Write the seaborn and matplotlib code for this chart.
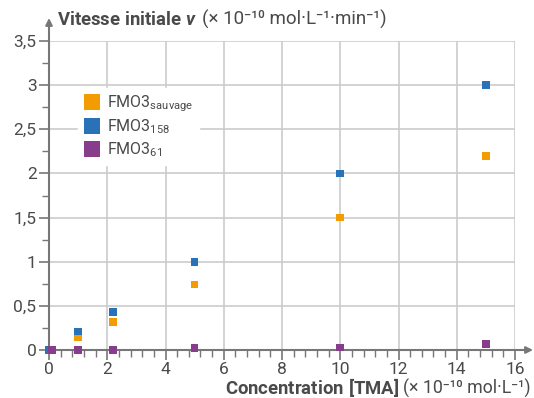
import numpy as np
import pandas as pd
import matplotlib.pyplot as plt
import seaborn as sns
from matplotlib.ticker import MultipleLocator, FuncFormatter
from matplotlib.lines import Line2D

# Données
conc = [0, 1, 2.2, 5, 10, 15]
v_sauvage = [0.0, 0.14, 0.32, 0.74, 1.5, 2.2]
v_158 = [0.0, 0.21, 0.43, 1.0, 2.0, 3.0]
conc_61 = [0.1, 1, 2.2, 5, 10, 15]
v_61 = [0.0, 0.0, 0.0, 0.025, 0.03, 0.07]

series = ['FMO3 sauvage', 'FMO3 158', 'FMO3 61']
labels = ['FMO3$_{\\mathregular{sauvage}}$', 'FMO3$_{\\mathregular{158}}$', 'FMO3$_{\\mathregular{61}}$']
couleurs = ['#F39C00', '#2A72B8', '#873C8C']

df = pd.concat([
    pd.DataFrame({'conc': conc, 'v': v_sauvage, 'serie': series[0]}),
    pd.DataFrame({'conc': conc, 'v': v_158, 'serie': series[1]}),
    pd.DataFrame({'conc': conc_61, 'v': v_61, 'serie': series[2]}),
])

sns.set_style('white')
police = 'Roboto'
plt.rcParams['font.family'] = [police, 'DejaVu Sans']
plt.rcParams['mathtext.fontset'] = 'custom'
plt.rcParams['mathtext.rm'] = police
plt.rcParams['mathtext.bf'] = police + ':bold'
plt.rcParams['mathtext.it'] = police + ':italic'
plt.rcParams['mathtext.bfit'] = police + ':bold:italic'

gris = '#4a4a4a'
W, H = 534, 398
fig = plt.figure(figsize=(W / 100, H / 100), dpi=100)
ax = fig.add_axes([49 / W, 48 / H, 466 / W, 309 / H])

sns.scatterplot(data=df, x='conc', y='v', hue='serie', palette=couleurs,
                marker='s', s=30, linewidth=0, ax=ax, legend=False,
                clip_on=False, zorder=5)
ax.set_xlabel('')
ax.set_ylabel('')

ax.set_xlim(0, 16)
ax.set_ylim(0, 3.5)
for s in ax.spines.values():
    s.set_visible(False)

ax.xaxis.set_major_locator(MultipleLocator(2))
ax.xaxis.set_minor_locator(MultipleLocator(0.4))
ax.yaxis.set_major_locator(MultipleLocator(0.5))
ax.yaxis.set_minor_locator(MultipleLocator(0.25))
fmt = FuncFormatter(lambda v, p: f'{v:g}'.replace('.', ','))
ax.xaxis.set_major_formatter(fmt)
ax.yaxis.set_major_formatter(fmt)
ax.tick_params(which='major', length=7, width=1.2, color='#777777',
               labelsize=12.5, labelcolor=gris, pad=2, bottom=True, left=True)
ax.tick_params(which='minor', length=5, width=1, color='#777777', bottom=True, left=True)
ax.grid(True, which='major', color='#cccccc', linewidth=1.2)
ax.set_axisbelow(True)

# axes fléchés
ax.annotate('', xy=((533 - 49) / 466, 0), xytext=(0, 0),
            xycoords='axes fraction',
            arrowprops=dict(arrowstyle='-|>', color='#777777', lw=1.5,
                            mutation_scale=10, shrinkA=0, shrinkB=0))
ax.annotate('', xy=(0, (H - 18 - 48) / 309), xytext=(0, 0),
            xycoords='axes fraction',
            arrowprops=dict(arrowstyle='-|>', color='#777777', lw=1.5,
                            mutation_scale=10, shrinkA=0, shrinkB=0))

# titres des axes (partie grasse + unité), enchaînés
rend = fig.canvas.get_renderer()
t1 = fig.text(57 / W, 1 - 25 / H, r'$\mathbf{Vitesse\ initiale}\ \mathbfit{v}$',
              fontsize=13.3, color=gris, ha='left', va='baseline')
x1 = t1.get_window_extent(rend).x1
fig.text((x1 + 4) / W, 1 - 25 / H, '(× 10⁻¹⁰ mol·L⁻¹·min⁻¹)',
         fontsize=13.5, color=gris, ha='left', va='baseline')

t2 = fig.text(531 / W, 1 - 394 / H, '(× 10⁻¹⁰ mol·L⁻¹)',
              fontsize=12.8, color=gris, ha='right', va='baseline')
x0 = t2.get_window_extent(rend).x0
fig.text((x0 - 4) / W, 1 - 394 / H, r'$\mathbf{Concentration\ [TMA]}$',
         fontsize=13.3, color=gris, ha='right', va='baseline')

handles = [Line2D([], [], marker='s', linestyle='', markersize=11.5,
                  markerfacecolor=c, markeredgewidth=0) for c in couleurs]
leg = ax.legend(handles, labels, loc='upper left', bbox_to_anchor=(0.045, 0.875),
                frameon=True, fontsize=11.5, labelcolor=gris, handletextpad=0.35,
                labelspacing=0.25, borderpad=0.35, handlelength=1.1)
leg.get_frame().set_edgecolor('white')
leg.get_frame().set_facecolor('white')
leg.get_frame().set_alpha(1)

fig.savefig('out.png', dpi=100)
plt.close()
